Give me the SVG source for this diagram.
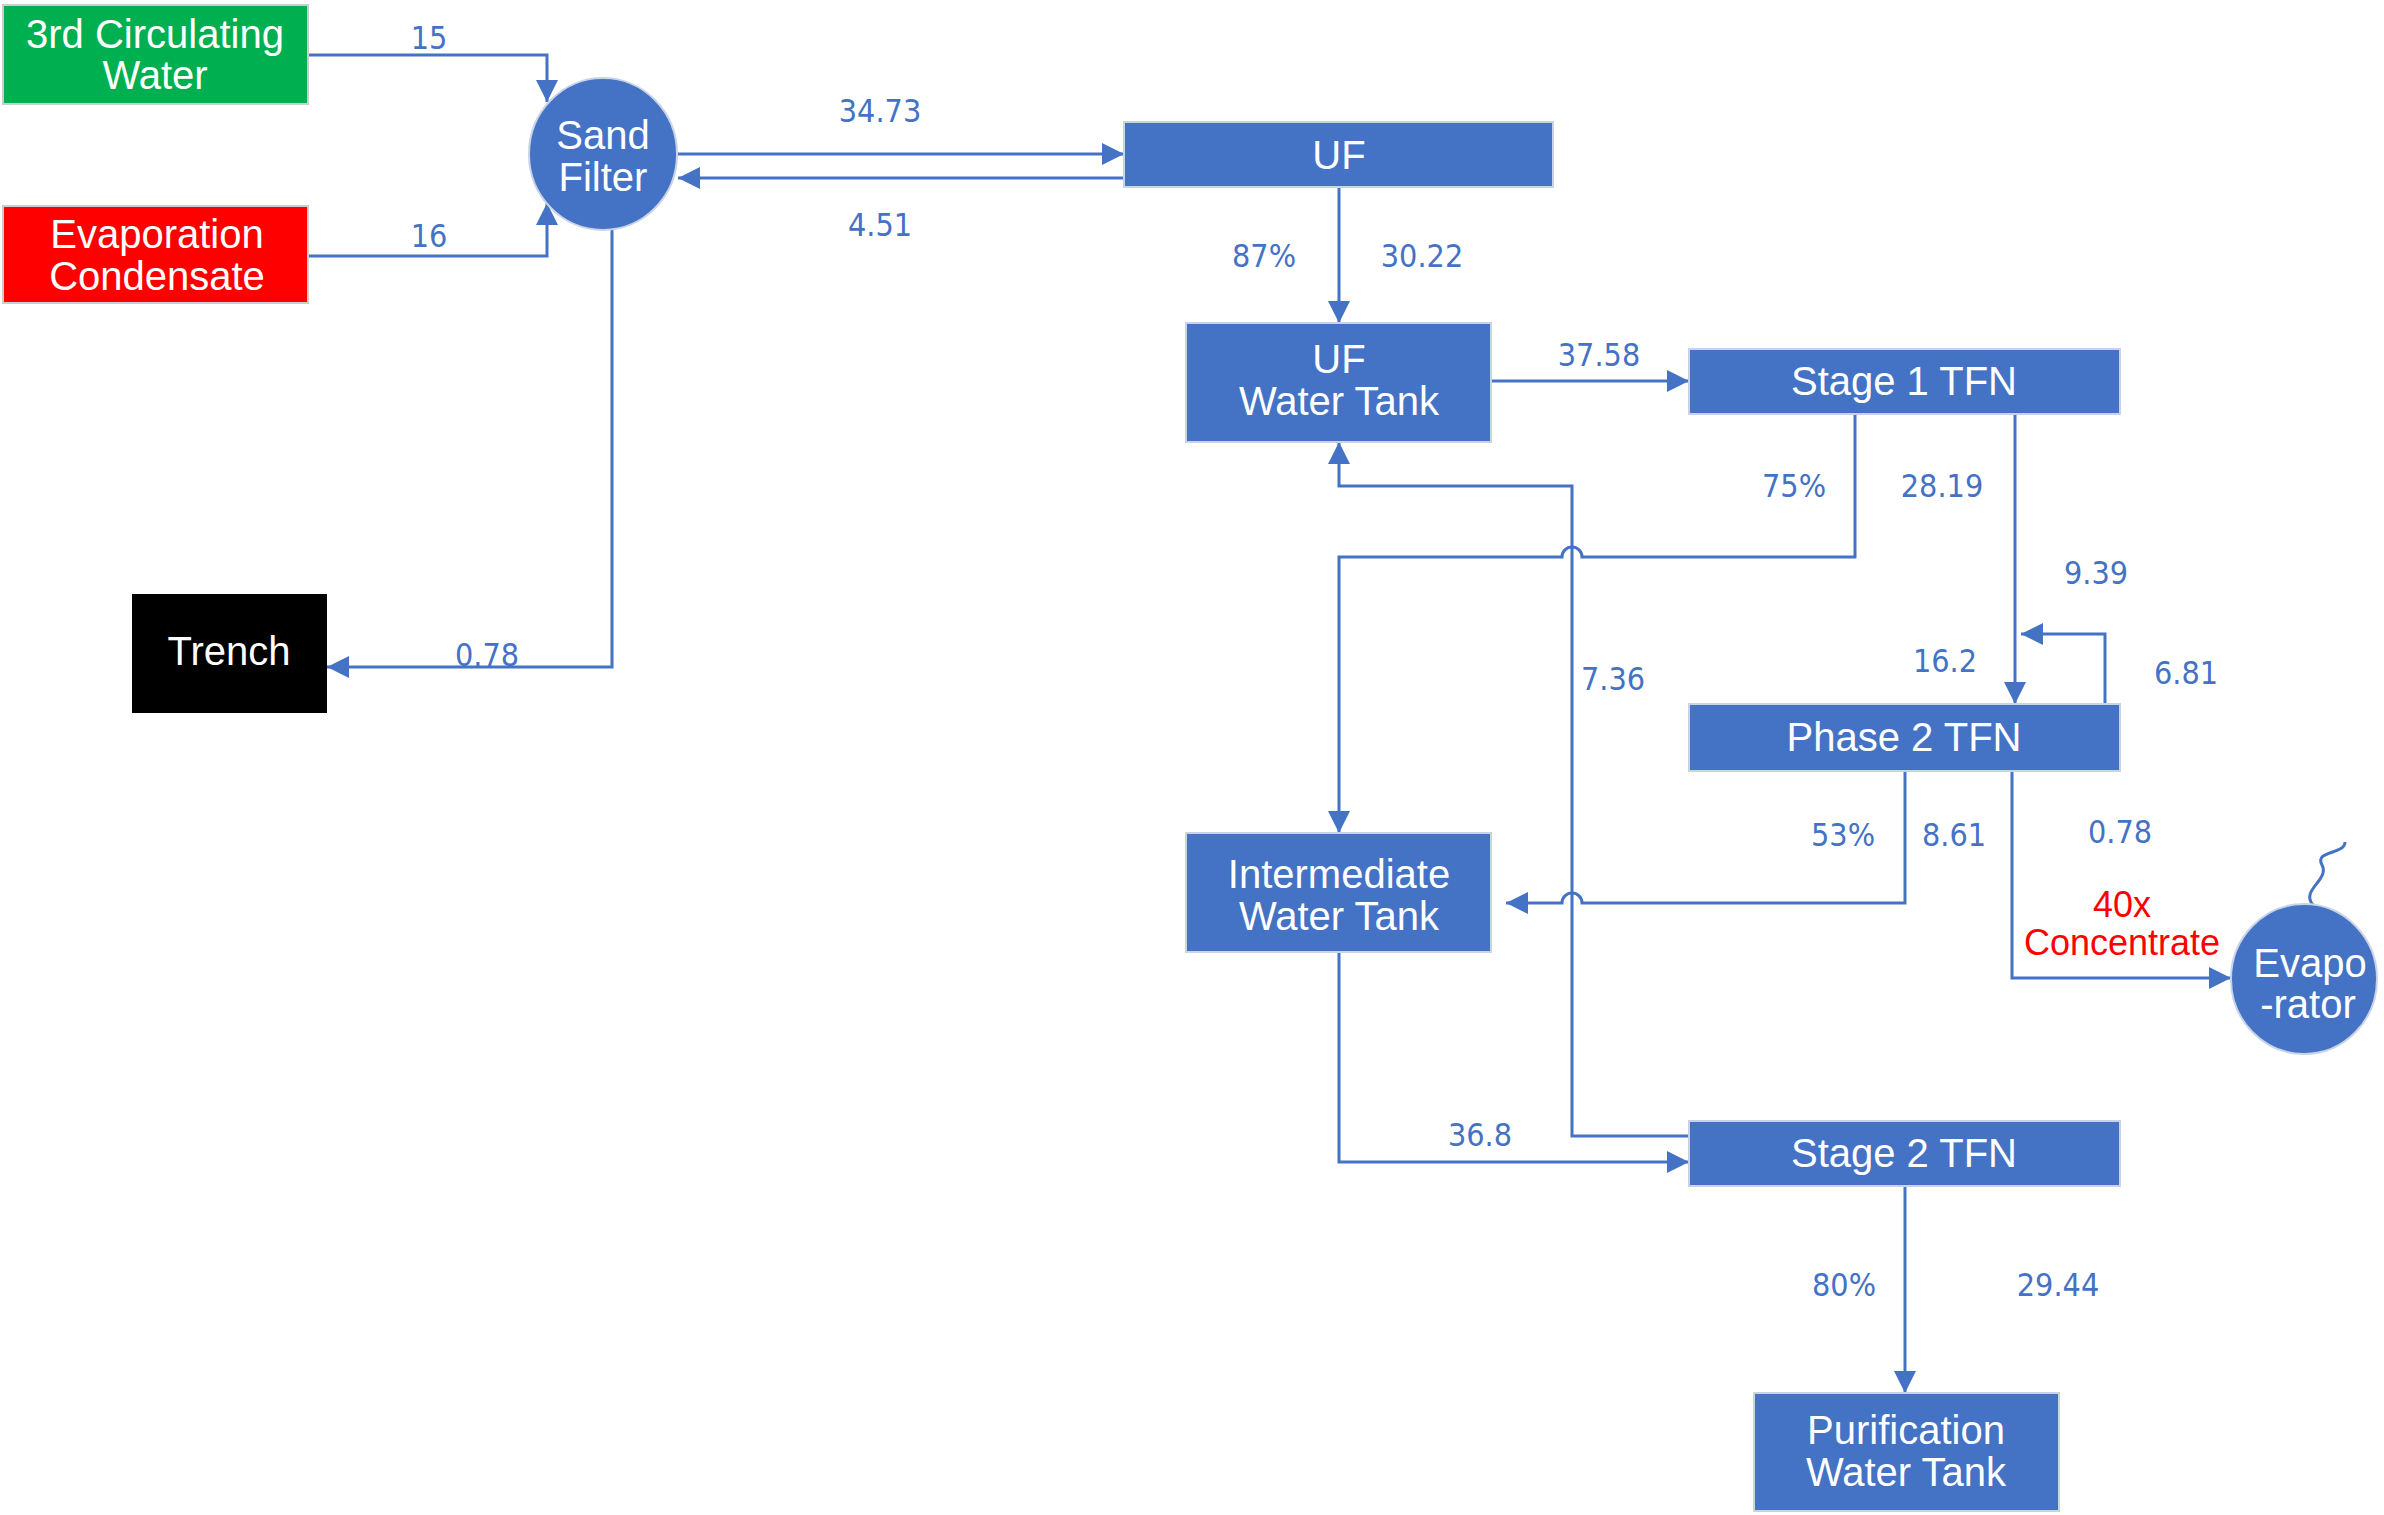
<svg xmlns="http://www.w3.org/2000/svg" width="2384" height="1515" viewBox="0 0 2384 1515">
<defs>
<marker id="ar" viewBox="0 0 10 10" refX="10" refY="5" markerWidth="7" markerHeight="7" markerUnits="userSpaceOnUse" orient="auto"><path d="M0,0 L10,5 L0,10 z" fill="#4472C4"/></marker>
<marker id="a" viewBox="0 0 10 10" refX="10" refY="5" markerWidth="22" markerHeight="22" markerUnits="userSpaceOnUse" orient="auto"><path d="M0,0 L10,5 L0,10 z" fill="#4472C4"/></marker>
</defs>
<style>
.b{fill:#4472C4;stroke:#c9d3e6;stroke-width:2}
.t{font-family:"Liberation Sans",Arial,sans-serif;font-size:40px;fill:#fff;text-anchor:middle}
.l{font-family:"DejaVu Sans Condensed","Liberation Sans",sans-serif;font-size:32px;fill:#4472C4;text-anchor:middle}
.c{fill:none;stroke:#4472C4;stroke-width:3;marker-end:url(#a)}
.n{fill:none;stroke:#4472C4;stroke-width:3}
</style>
<rect width="2384" height="1515" fill="#fff"/>
<g id="connectors">
<path class="c" d="M308,55 H547 V102"/>
<path class="c" d="M308,256 H547 V203"/>
<path class="c" d="M678,154 H1124"/>
<path class="c" d="M1124,178 H678"/>
<path class="c" d="M612,229 V667 H327"/>
<path class="c" d="M1339,187 V323"/>
<path class="c" d="M1491,381 H1689"/>
<path class="c" d="M1855,414 V557 H1582 A10,10 0 0 0 1562,557 H1339 V833"/>
<path class="c" d="M2015,414 V704"/>
<path class="c" d="M2105,704 V634 H2021"/>
<path class="c" d="M1905,771 V903 H1582 A10,10 0 0 0 1562,903 H1506"/>
<path class="c" d="M2012,771 V978 H2231"/>
<path class="c" d="M1339,952 V1162 H1689"/>
<path class="c" d="M1689,1136 H1572 V486 H1339 V442"/>
<path class="c" d="M1905,1186 V1393"/>
<path class="n" d="M2313,905 C2300,890 2330,880 2322,865 C2314,850 2345,855 2345,842"/>
</g>
<g id="green"><rect x="3" y="5" width="305" height="99" fill="#00B050" stroke="#ccc" stroke-width="2"/><text class="t" x="155" y="48">3rd Circulating</text><text class="t" x="155" y="89">Water</text></g>
<g id="red"><rect x="3" y="206" width="305" height="97" fill="#FF0000" stroke="#ccc" stroke-width="2"/><text class="t" x="157" y="248">Evaporation</text><text class="t" x="157" y="290">Condensate</text></g>
<g id="sand"><ellipse class="b" cx="603" cy="154" rx="74" ry="76"/><text class="t" x="603" y="149">Sand</text><text class="t" x="603" y="191">Filter</text></g>
<g id="trench"><rect x="132" y="594" width="195" height="119" fill="#000"/><text class="t" x="229" y="665">Trench</text></g>
<g id="uf"><rect class="b" x="1124" y="122" width="429" height="65"/><text class="t" x="1339" y="169">UF</text></g>
<g id="uftank"><rect class="b" x="1186" y="323" width="305" height="119"/><text class="t" x="1339" y="373">UF</text><text class="t" x="1339" y="415">Water Tank</text></g>
<g id="stage1"><rect class="b" x="1689" y="349" width="431" height="65"/><text class="t" x="1904" y="395">Stage 1 TFN</text></g>
<g id="phase2"><rect class="b" x="1689" y="704" width="431" height="67"/><text class="t" x="1904" y="751">Phase 2 TFN</text></g>
<g id="inter"><rect class="b" x="1186" y="833" width="305" height="119"/><text class="t" x="1339" y="888">Intermediate</text><text class="t" x="1339" y="930">Water Tank</text></g>
<g id="stage2"><rect class="b" x="1689" y="1121" width="431" height="65"/><text class="t" x="1904" y="1167">Stage 2 TFN</text></g>
<g id="pure"><rect class="b" x="1754" y="1393" width="305" height="118"/><text class="t" x="1906" y="1444">Purification</text><text class="t" x="1906" y="1486">Water Tank</text></g>
<g id="evap"><ellipse class="b" cx="2304" cy="979" rx="73" ry="75"/><text class="t" x="2310" y="977">Evapo</text><text class="t" x="2308" y="1018">-rator</text></g>
<g id="labels">
<text class="l" x="429" y="49">15</text>
<text class="l" x="429" y="247">16</text>
<text class="l" x="880" y="122">34.73</text>
<text class="l" x="880" y="236">4.51</text>
<text class="l" x="487" y="666">0.78</text>
<text class="l" x="1264" y="267">87%</text>
<text class="l" x="1422" y="267">30.22</text>
<text class="l" x="1599" y="366">37.58</text>
<text class="l" x="1794" y="497">75%</text>
<text class="l" x="1942" y="497">28.19</text>
<text class="l" x="2096" y="584">9.39</text>
<text class="l" x="1945" y="672">16.2</text>
<text class="l" x="2186" y="684">6.81</text>
<text class="l" x="1613" y="690">7.36</text>
<text class="l" x="1843" y="846">53%</text>
<text class="l" x="1954" y="846">8.61</text>
<text class="l" x="2120" y="843">0.78</text>
<text class="l" x="1480" y="1146">36.8</text>
<text class="l" x="1844" y="1296">80%</text>
<text class="l" x="2058" y="1296">29.44</text>
<text x="2122" y="917" style="font-family:'Liberation Sans',Arial,sans-serif;font-size:36px;fill:#FF0000;text-anchor:middle">40x</text>
<text x="2122" y="955" style="font-family:'Liberation Sans',Arial,sans-serif;font-size:36px;fill:#FF0000;text-anchor:middle">Concentrate</text>
</g>
</svg>
